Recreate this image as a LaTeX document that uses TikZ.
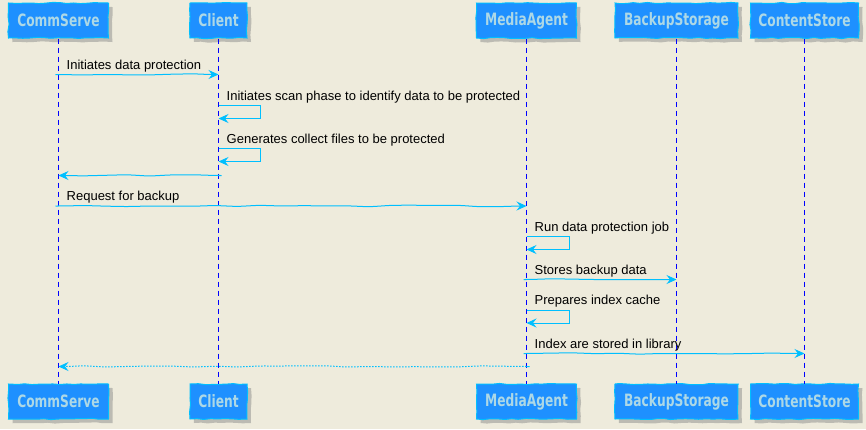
\documentclass[tikz,border=0pt]{standalone}
\usepackage{fontspec}
\setmainfont{Liberation Sans}
\newfontfamily\boxfont{DejaVu Sans}
\usepackage{graphicx}
\usetikzlibrary{arrows.meta,decorations.pathmorphing,shadows}
\definecolor{bg}{HTML}{EEEBDC}
\definecolor{boxfill}{HTML}{1E90FF}
\definecolor{boxline}{HTML}{00BFFF}
\definecolor{boxtext}{HTML}{ADD8E6}
\definecolor{msgc}{HTML}{00BFFF}
\definecolor{lifec}{HTML}{0000FF}
\newcommand{\ptxt}[1]{\scalebox{0.72}[1]{\boxfont\fontsize{17bp}{17bp}\selectfont\bfseries #1}}
\begin{document}
\pgfmathsetseed{7}
\begin{tikzpicture}[x=1bp,y=-1bp,
  part/.style={draw=boxline, fill=boxfill, line width=1bp, minimum height=35bp, inner sep=0pt,
    text=boxtext, decorate, decoration={random steps, segment length=7bp, amplitude=0.6bp},
    drop shadow={shadow xshift=4bp, shadow yshift=-4bp, fill=black!45, opacity=0.5}},
  life/.style={color=lifec, draw=lifec, line width=1bp, dash pattern=on 5bp off 4bp},
  msgtip/.style={-{Stealth[length=10bp,width=9bp,inset=3.5bp]}},
  msg/.style={draw=msgc, line width=1bp, msgtip},
  wavy/.style={decorate, decoration={random steps, segment length=22bp, amplitude=0.8bp, pre length=3bp, post length=9bp}, rounded corners=6bp},
  dotret/.style={msg, dash pattern=on 1.5bp off 1.5bp},
  lbl/.style={anchor=base west, font=\fontsize{13bp}{13bp}\selectfont, text=black, inner sep=0pt, xshift=8bp}
]
\path[fill=bg, use as bounding box] (0,0) rectangle (866,429);

% participants top
\node[part, minimum width=100bp] (csT) at (58.5,20.5) {\ptxt{CommServe}};
\node[part, minimum width=57bp] (clT) at (218.5,20.5) {\ptxt{Client}};
\node[part, minimum width=100bp] (maT) at (526.5,20.5) {\ptxt{MediaAgent}};
\node[part, minimum width=123bp] (bsT) at (676.5,20.5) {\ptxt{BackupStorage}};
\node[part, minimum width=108bp] (ctT) at (804.5,20.5) {\ptxt{ContentStore}};
% participants bottom
\node[part, minimum width=100bp] (csB) at (58.5,401.5) {\ptxt{CommServe}};
\node[part, minimum width=57bp] (clB) at (218.5,401.5) {\ptxt{Client}};
\node[part, minimum width=100bp] (maB) at (526.5,401.5) {\ptxt{MediaAgent}};
\node[part, minimum width=123bp] (bsB) at (676.5,401.5) {\ptxt{BackupStorage}};
\node[part, minimum width=108bp] (ctB) at (804.5,401.5) {\ptxt{ContentStore}};

% lifelines (one path)
\draw[life] (csT.south) -- (csB.north)
            (clT.south) -- (clB.north)
            (maT.south) -- (maB.north)
            (bsT.south) -- (bsB.north)
            (ctT.south) -- (ctB.north);

% 1
\node[lbl] (l1) at (csT |- 0,69) {Initiates data protection};
\draw[msg, wavy] (csT |- 0,74.5) -- (clT |- 0,74.5);
% 2
\node[lbl] (l2) at (clT |- 0,100.5) {Initiates scan phase to identify data to be protected};
\draw[msg] (clT |- 0,105.5) -- ++(42,0) -- ++(0,13) -- (clT |- 0,118.5);
% 3
\node[lbl] (l3) at (clT |- 0,143.5) {Generates collect files to be protected};
\draw[msg] (clT |- 0,148.5) -- ++(42,0) -- ++(0,13) -- (clT |- 0,161.5);
% 4
\draw[msg, wavy] (clT |- 0,175.5) -- (csT |- 0,175.5);
% 5
\node[lbl] (l5) at (csT |- 0,200.5) {Request for backup};
\draw[msg, wavy] (csT |- 0,206) -- (maT |- 0,206);
% 6
\node[lbl] (l6) at (maT |- 0,231.5) {Run data protection job};
\draw[msg] (maT |- 0,236.5) -- ++(43,0) -- ++(0,13) -- (maT |- 0,249.5);
% 7
\node[lbl] (l7) at (maT |- 0,274.5) {Stores backup data};
\draw[msg, wavy] (maT |- 0,279.5) -- (bsT |- 0,279.5);
% 8
\node[lbl] (l8) at (maT |- 0,304.5) {Prepares index cache};
\draw[msg] (maT |- 0,310) -- ++(43,0) -- ++(0,13) -- (maT |- 0,323);
% 9
\node[lbl] (l9) at (maT |- 0,348.5) {Index are stored in library};
\draw[msg, wavy] (maT |- 0,353.5) -- (ctT |- 0,353.5);
% 10
\draw[dotret, wavy] (maT |- 0,366.5) -- (csT |- 0,366.5);
\end{tikzpicture}
\end{document}
